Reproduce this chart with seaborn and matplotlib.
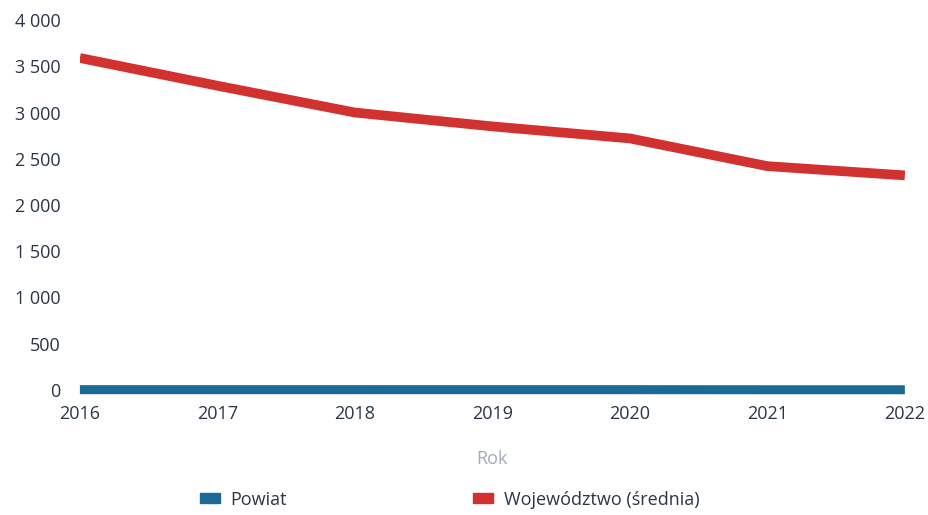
import pandas as pd
import matplotlib.pyplot as plt
import matplotlib.ticker as mticker
from matplotlib.patches import Patch
import seaborn as sns

# Data
years = [2016, 2017, 2018, 2019, 2020, 2021, 2022]
powiat = [2, 2, 2, 2, 2, 1, 1]
wojewodztwo = [3590, 3290, 3000, 2850, 2720, 2420, 2320]

df = pd.DataFrame({
    'Rok': years * 2,
    'Wartość': powiat + wojewodztwo,
    'Seria': ['Powiat'] * len(years) + ['Województwo (średnia)'] * len(years),
})
palette = {'Powiat': '#1b6a96', 'Województwo (średnia)': '#d2322f'}

sns.set_theme(style='white')
plt.rcParams['font.family'] = ['Open Sans', 'DejaVu Sans']

fig = plt.figure(figsize=(9.29, 5.15), dpi=100)
ax = fig.add_axes([0.086, 0.243, 0.888, 0.718])

sns.lineplot(data=df[df['Seria'] == 'Powiat'], x='Rok', y='Wartość',
             color=palette['Powiat'], linewidth=6.5, ax=ax, legend=False,
             solid_capstyle='butt', clip_on=False)
sns.lineplot(data=df[df['Seria'] != 'Powiat'], x='Rok', y='Wartość',
             color=palette['Województwo (średnia)'], linewidth=7, ax=ax,
             legend=False, solid_capstyle='butt')

ax.set_xlim(years[0], years[-1])
ax.set_ylim(0, 4000)
ax.set_xticks(years)
ax.set_yticks(range(0, 4001, 500))
ax.yaxis.set_major_formatter(mticker.FuncFormatter(lambda v, p: f'{int(v):,}'.replace(',', ' ')))
ax.tick_params(axis='both', labelsize=13, labelcolor='#2a3547', length=0)
ax.tick_params(axis='y', pad=14)
ax.tick_params(axis='x', pad=11)
for s in ax.spines.values():
    s.set_visible(False)

ax.set_xlabel('Rok', fontsize=13, color='#a3a9b8', labelpad=19)
ax.set_ylabel('')

handles = [Patch(color=palette[k]) for k in palette]
fig.legend(handles, list(palette), loc='center', bbox_to_anchor=(0.484, 0.03),
           ncol=2, frameon=False, fontsize=13, columnspacing=10.3,
           handlelength=1.1, handleheight=0.5, handletextpad=0.6,
           labelcolor='#2a3547')

fig.savefig('out.png', dpi=100)
